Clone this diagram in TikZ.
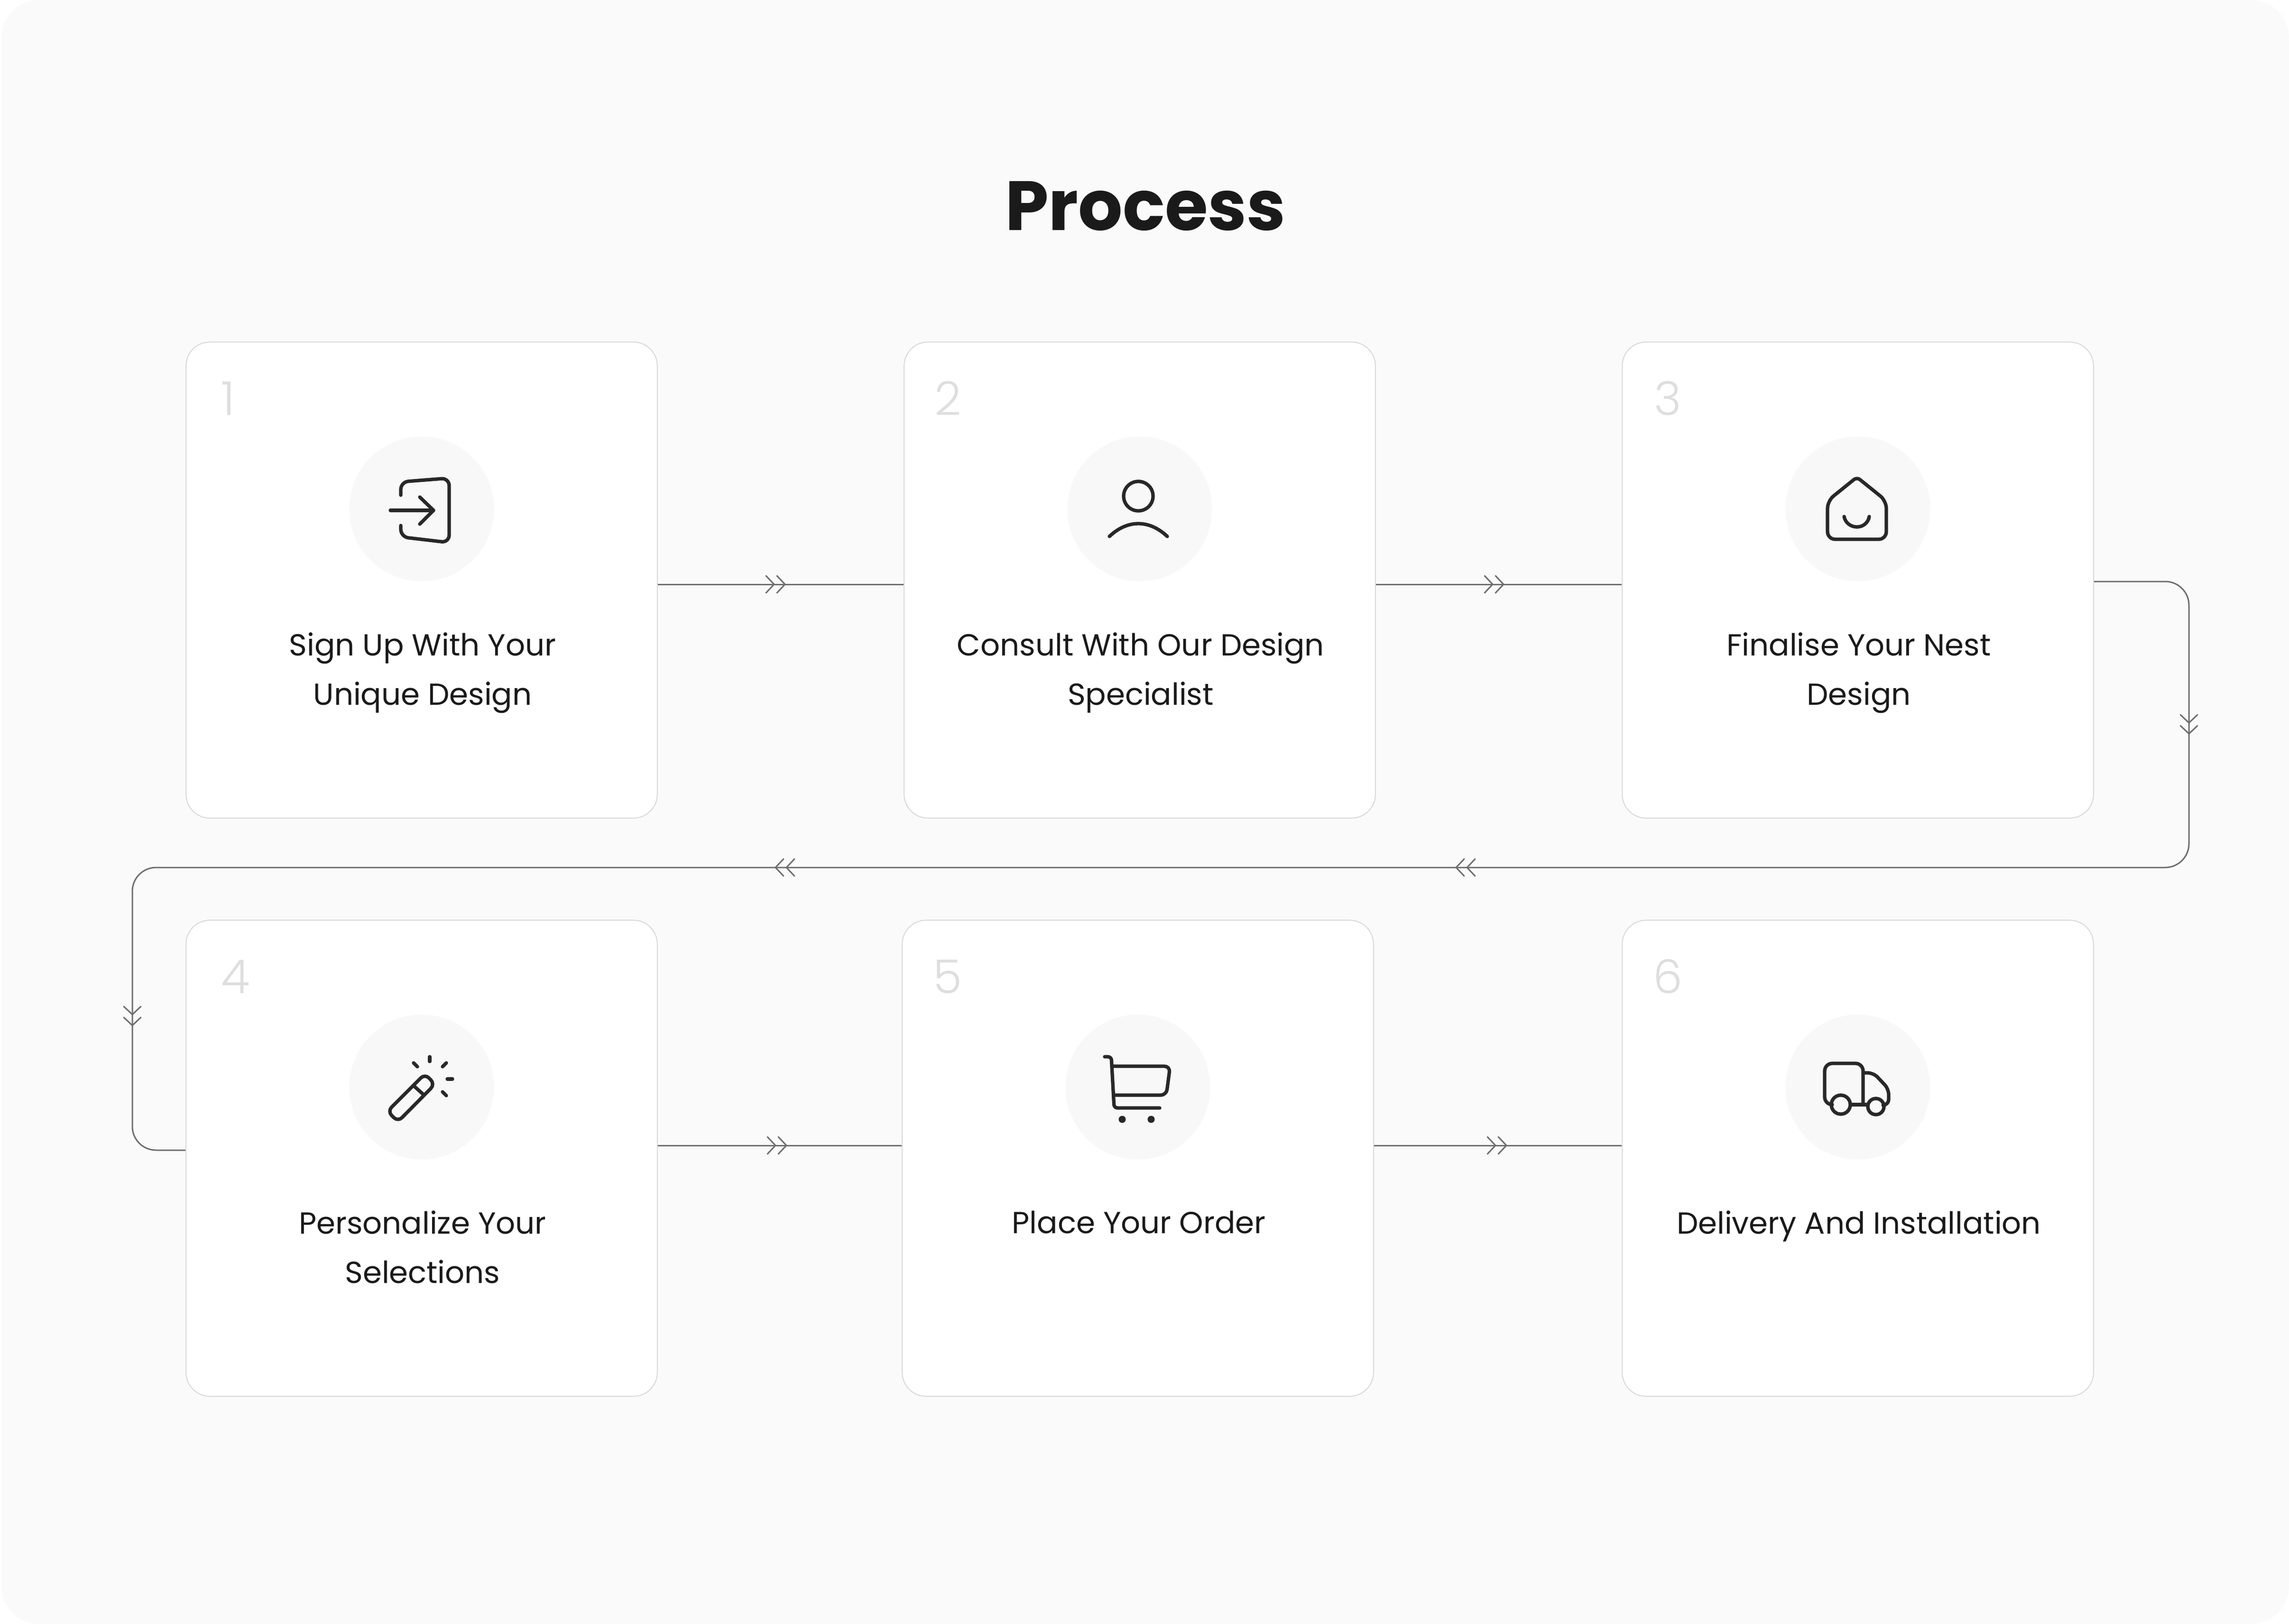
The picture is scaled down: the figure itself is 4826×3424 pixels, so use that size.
\documentclass[tikz,border=0pt]{standalone}
\usepackage{fontspec}
\setmainfont{Poppins}
\newfontfamily\numfont{Poppins Light}
\usetikzlibrary{positioning}
\definecolor{pagebg}{HTML}{FAFAFA}
\definecolor{edgegrey}{HTML}{D9D9D9}
\definecolor{discgrey}{HTML}{F8F8F8}
\definecolor{linkgrey}{HTML}{6E6E6E}
\definecolor{numgrey}{HTML}{DEDEDE}
\definecolor{inkdark}{HTML}{282828}
\definecolor{titledark}{HTML}{1A1A1A}
\tikzset{
  card/.style={draw=edgegrey, line width=0.02cm, fill=white, rounded corners=0.5cm,
    minimum width=9.93cm, minimum height=10.03cm, inner sep=0pt},
  disc/.style={circle, fill=discgrey, minimum size=3.05cm, inner sep=0pt},
  numlabel/.style={anchor=base west, inner sep=0pt, text=numgrey,
    font=\numfont\fontsize{28}{28}\selectfont},
  steplabel/.style={anchor=north, inner sep=0pt, align=center, text=titledark,
    font=\fontsize{18.25}{29.6}\selectfont},
  link/.style={draw=linkgrey, line width=0.03cm},
  glyph/.style={draw=inkdark, line width=0.073cm, line cap=round, line join=round},
  pics/chev/.style={code={
    \draw[link, line cap=round] (-17,-18) -- (0,0) -- (-17,18);
    \draw[link, line cap=round] (-40,-18) -- (-23,0) -- (-40,18);
  }}
}
\begin{document}
\begin{tikzpicture}[x=0.01cm, y=-0.01cm]
    \useasboundingbox (0,0) rectangle (4826,3424);
    \fill[pagebg, rounded corners=0.8cm] (3,0) rectangle (4826,3424);
    \node[anchor=base, inner sep=0pt, text=titledark, font=\fontsize{41.8}{44}\selectfont\bfseries] (title) at (2415,485) {Process};

    % cards with number, disc and text
    \foreach \n/\x/\y/\numx/\txt in {
      1/889/1223/466/{Sign Up With Your\\Unique Design},
      2/2403/1223/1970/{Consult With Our Design\\Specialist},
      3/3917/1223/3487/{Finalise Your Nest\\Design},
      4/889/2442/466/{Personalize Your\\Selections},
      5/2399/2442/1967/{Place Your Order},
      6/3917/2442/3485/{Delivery And Installation}} {
      \node[card] (card\n) at (\x,\y) {};
      \node[numlabel] (num\n) at ([yshift=3.47cm]\numx,\y) {\n};
      \node[disc] (disc\n) at ([yshift=1.5cm]\x,\y) {};
      \node[steplabel] (label\n) at ([xshift=0.02cm,yshift=-1.1cm]\x,\y) {\txt};
    }

    % connectors
    \coordinate (wayA) at (4615,1226);
    \coordinate (wayB) at (4615,1829);
    \coordinate (wayC) at (279,1829);
    \coordinate (wayD) at (279,2425);
    \draw[link] ([yshift=-0.09cm]card1.east) -- ([yshift=-0.09cm]card2.west);
    \draw[link] ([yshift=-0.09cm]card2.east) -- ([yshift=-0.09cm]card3.west);
    \draw[link] ([yshift=0.27cm]card4.east) -- ([yshift=0.27cm]card5.west);
    \draw[link] ([yshift=0.27cm]card5.east) -- ([yshift=0.27cm]card6.west);
    \draw[link, rounded corners=0.5cm] ([yshift=-0.03cm]card3.east) -- (wayA) -- (wayB) -- (wayC) -- (wayD) -- ([yshift=0.17cm]card4.west);
    \foreach \x/\y/\r in {1655/1232/0, 3170/1232/0, 1658/2415/0, 3176/2415/0,
      1635/1829/180, 3070/1829/180, 4615/1547/-90, 279/2162/-90} {
      \pic[rotate=\r] at (\x,\y) {chev};
    }

    % icon 1: door and arrow
    \draw[glyph] (823,1076) -- (914,1076);
    \draw[glyph] (885,1048) -- (914,1076) -- (885,1105);
    \draw[glyph, rounded corners=0.16cm] (845,1044) -- (845,1016) -- (947,1008) -- (947,1144) -- (845,1132) -- (845,1108);
    % icon 2: person
    \draw[glyph] (2400,1046) circle[radius=0.31cm];
    \draw[glyph] (2339,1131) .. controls (2358,1113) and (2379,1104) .. (2400,1104)
      .. controls (2421,1104) and (2442,1113) .. (2461,1131);
    % icon 3: house
    \draw[glyph] (3915,1137) [rounded corners=0.16cm] -- (3853,1137) -- (3853,1056) [rounded corners=0.08cm] -- (3915,1006)
      [rounded corners=0.16cm] -- (3977,1056) -- (3977,1137) -- cycle;
    \draw[glyph] (3888,1089) .. controls (3890,1102) and (3902,1111) .. (3915,1111)
      .. controls (3928,1111) and (3939,1102) .. (3941,1089);
    % icon 4: wand
    \draw[glyph, rounded corners=0.12cm] (896,2264) -- (917,2286) -- (839,2365) -- (817,2343) -- cycle;
    \draw[glyph] (873,2290) -- (892,2307);
    \draw[glyph] (906,2228) -- (906,2238);
    \draw[glyph] (872,2241) -- (880,2249);
    \draw[glyph] (941,2241) -- (933,2249);
    \draw[glyph] (943,2275) -- (954,2275);
    \draw[glyph] (933,2302) -- (941,2310);
    % icon 5: cart
    \draw[glyph, rounded corners=0.07cm] (2329,2228) -- (2343,2228) -- (2349,2336) -- (2445,2336);
    \draw[glyph, rounded corners=0.12cm] (2344,2248) -- (2467,2248) -- (2459,2309) -- (2348,2309);
    \fill[inkdark] (2366,2360) circle[radius=0.075cm];
    \fill[inkdark] (2427,2360) circle[radius=0.075cm];
    % icon 6: truck
    \draw[glyph, rounded corners=0.16cm] (3861,2329) -- (3847,2329) -- (3847,2242) -- (3928,2242) -- (3928,2329);
    \draw[glyph] (3902,2329) -- (3936,2329);
    \draw[glyph, rounded corners=0.12cm] (3932,2262) -- (3950,2262) -- (3982,2296) -- (3982,2330) -- (3974,2330);
    \draw[glyph] (3881,2329) circle[radius=0.2cm];
    \draw[glyph] (3955,2333) circle[radius=0.17cm];
  \end{tikzpicture}
\end{document}
